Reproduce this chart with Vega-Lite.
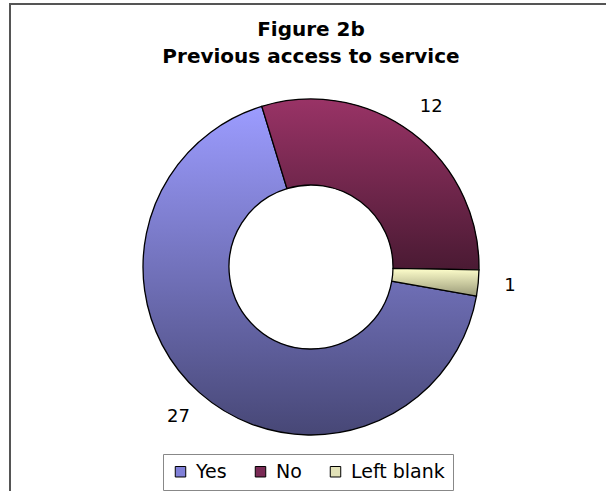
{
  "$schema": "https://vega.github.io/schema/vega-lite/v6.json",
  "width": 602,
  "height": 526,
  "padding": {"left": 10, "top": 4, "right": 0, "bottom": 0},
  "autosize": {"type": "none"},
  "background": "white",
  "view": {"stroke": "#555555", "strokeWidth": 2, "fill": "white"},
  "config": {
    "font": "DejaVu Sans"
  },
  "title": {
    "text": ["Figure 2b", "Previous access to service"],
    "font": "DejaVu Sans",
    "fontSize": 20,
    "fontWeight": "bold",
    "color": "black",
    "lineHeight": 27,
    "anchor": "middle",
    "offset": -63
  },
  "data": {
    "values": [
      {"answer": "Yes", "count": 27, "idx": 1},
      {"answer": "No", "count": 12, "idx": 2},
      {"answer": "Left blank", "count": 1, "idx": 3}
    ]
  },
  "encoding": {
    "theta": {
      "field": "count",
      "type": "quantitative",
      "stack": true,
      "scale": {"range": [1.745, 8.028]}
    },
    "order": {"field": "idx", "type": "quantitative"}
  },
  "layer": [
    {
      "mark": {"type": "arc", "innerRadius": 82, "outerRadius": 168},
      "encoding": {
        "color": {
          "field": "answer",
          "type": "nominal",
          "scale": {
            "domain": ["Yes", "No", "Left blank"],
            "range": ["#8080d8", "#7a2a55", "#e2e2b8"]
          },
          "legend": {
            "orient": "none",
            "legendX": 153,
            "legendY": 450,
            "direction": "horizontal",
            "title": null,
            "strokeColor": "#888888",
            "fillColor": "white",
            "padding": 8,
            "columnPadding": 24,
            "symbolType": "square",
            "symbolSize": 110,
            "symbolStrokeColor": "black",
            "symbolStrokeWidth": 1,
            "symbolOpacity": 1,
            "labelFont": "DejaVu Sans",
            "labelFontSize": 19,
            "labelColor": "black",
            "labelOffset": 6
          }
        }
      }
    },
    {
      "mark": {
        "type": "arc",
        "innerRadius": 82,
        "outerRadius": 168,
        "stroke": "black",
        "strokeWidth": 1.3
      },
      "encoding": {
        "fill": {
          "condition": [
            {
              "test": "datum.answer === 'Yes'",
              "value": {
                "gradient": "linear", "x1": 0, "y1": 0, "x2": 0, "y2": 1,
                "stops": [
                  {"offset": 0, "color": "#9c9cff"},
                  {"offset": 1, "color": "#474776"}
                ]
              }
            },
            {
              "test": "datum.answer === 'No'",
              "value": {
                "gradient": "linear", "x1": 0, "y1": 0, "x2": 0, "y2": 1,
                "stops": [
                  {"offset": 0, "color": "#993366"},
                  {"offset": 1, "color": "#4a1a33"}
                ]
              }
            }
          ],
          "value": {
            "gradient": "linear", "x1": 0, "y1": 0, "x2": 0, "y2": 1,
            "stops": [
              {"offset": 0, "color": "#ffffcc"},
              {"offset": 1, "color": "#9a9a78"}
            ]
          }
        }
      }
    },
    {
      "mark": {
        "type": "text",
        "radius": 200,
        "font": "DejaVu Sans",
        "fontSize": 18,
        "color": "black"
      },
      "encoding": {
        "text": {"field": "count", "type": "quantitative"}
      }
    }
  ]
}
